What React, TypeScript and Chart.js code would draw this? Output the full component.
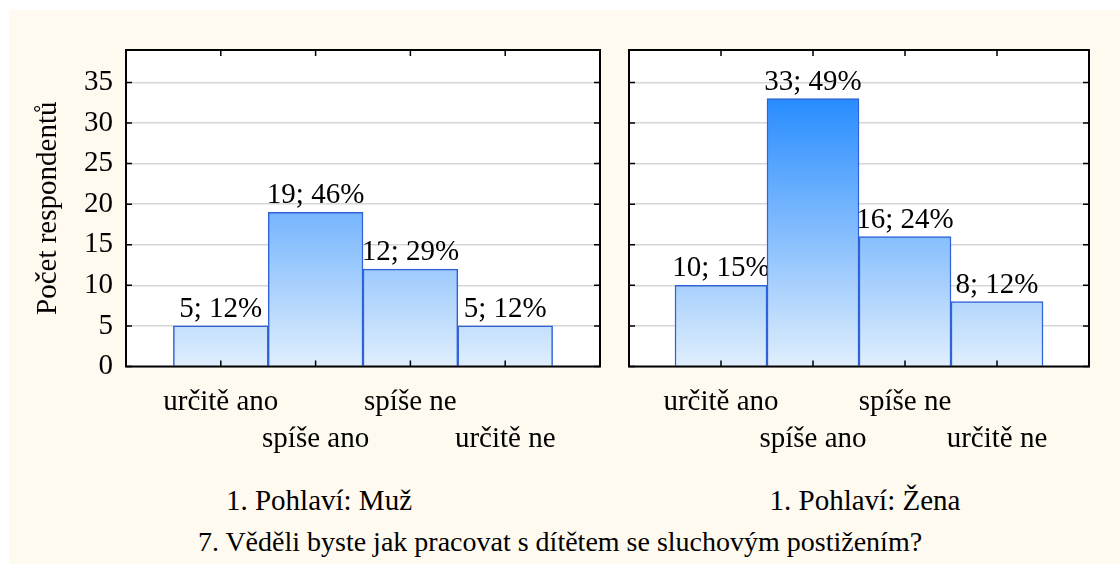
import React, { useEffect, useRef } from "react";
import { Chart, registerables } from "chart.js";

Chart.register(...registerables);

// ---- data ----
const categories = ["určitě ano", "spíše ano", "spíše ne", "určitě ne"];
const maleCounts = [5, 19, 12, 5];
const malePercents = [12, 46, 29, 12];
const femaleCounts = [10, 33, 16, 8];
const femalePercents = [15, 49, 24, 12];
const yTickStep = 5;
const yMax = 39;
const yTitle = "Počet respondentů";
const panelTitles = ["1. Pohlaví: Muž", "1. Pohlaví: Žena"];
const mainTitle = "7. Věděli byste jak pracovat s dítětem se sluchovým postižením?";

// ---- style ----
const FONT = "Liberation Serif";
const FS = 29;
const GRAD_TOP_VALUE = 33;
const CREAM = "#FFFAF0";

function makeFramePlugin(counts: number[], percents: number[]) {
  return {
    id: "frame",
    beforeDraw(chart: any) {
      const { ctx, chartArea: a } = chart;
      ctx.save();
      ctx.fillStyle = "#ffffff";
      ctx.fillRect(a.left, a.top, a.right - a.left, a.bottom - a.top);
      ctx.restore();
    },
    beforeDatasetsDraw(chart: any) {
      const { ctx } = chart;
      const meta = chart.getDatasetMeta(0);
      ctx.save();
      ctx.font = `${FS}px ${FONT}`;
      ctx.fillStyle = "#000";
      ctx.textAlign = "center";
      ctx.textBaseline = "alphabetic";
      meta.data.forEach((bar: any, i: number) => {
        ctx.fillText(`${counts[i]}; ${percents[i]}%`, bar.x, bar.y - 9);
      });
      ctx.restore();
    },
    afterDatasetsDraw(chart: any) {
      const { ctx, chartArea: a, scales } = chart;
      const ys = scales.y;
      const xs = scales.x;
      ctx.save();
      ctx.strokeStyle = "#000";
      ctx.lineWidth = 1.5;
      const tl = 6;
      ys.ticks.forEach((t: any) => {
        const p = ys.getPixelForValue(t.value);
        ctx.beginPath();
        ctx.moveTo(a.left, p);
        ctx.lineTo(a.left + tl, p);
        ctx.moveTo(a.right, p);
        ctx.lineTo(a.right - tl, p);
        ctx.stroke();
      });
      categories.forEach((_c, i) => {
        const p = xs.getPixelForValue(i + 1);
        ctx.beginPath();
        ctx.moveTo(p, a.top);
        ctx.lineTo(p, a.top + tl);
        ctx.moveTo(p, a.bottom);
        ctx.lineTo(p, a.bottom - tl);
        ctx.stroke();
      });
      ctx.lineWidth = 2;
      ctx.strokeRect(a.left, a.top, a.right - a.left, a.bottom - a.top);
      ctx.restore();
    },
  };
}

function makeConfig(counts: number[], percents: number[], left: boolean): any {
  return {
    type: "bar",
    data: {
      datasets: [
        {
          data: categories.map((_c, i) => ({ x: i + 1, y: counts[i] })),
          backgroundColor: (c: any) => {
            const chart = c.chart;
            if (!chart.chartArea) return "#cfe4fb";
            const ys = chart.scales.y;
            const g = chart.ctx.createLinearGradient(
              0,
              ys.getPixelForValue(0),
              0,
              ys.getPixelForValue(GRAD_TOP_VALUE)
            );
            g.addColorStop(0, "#E0EEFC");
            g.addColorStop(1, "#288CFF");
            return g;
          },
          borderColor: "#2F62D8",
          borderWidth: 1.5,
          borderSkipped: "bottom",
          categoryPercentage: 1,
          barPercentage: 1,
        },
      ],
    },
    options: {
      responsive: false,
      animation: false,
      devicePixelRatio: 1,
      layout: {
        padding: left
          ? { left: 27, right: 20, top: 50, bottom: 0 }
          : { left: 19, right: 21, top: 50, bottom: 0 },
      },
      plugins: {
        legend: { display: false },
        tooltip: { enabled: false },
        title: { display: false },
      },
      scales: {
        x: {
          type: "linear",
          offset: false,
          min: 0,
          max: categories.length + 1,
          grid: { display: false, drawTicks: false, offset: false },
          border: { display: false },
          afterFit: (s: any) => {
            s.height = 103.5;
          },
          ticks: {
            stepSize: 1,
            autoSkip: false,
            maxRotation: 0,
            minRotation: 0,
            padding: 17,
            color: "#000",
            font: { family: FONT, size: FS, lineHeight: 1.28 },
            callback: (v: any) => {
              const i = Math.round(Number(v)) - 1;
              if (i < 0 || i >= categories.length) return "";
              return i % 2 === 0 ? [categories[i], ""] : ["", categories[i]];
            },
          },
        },
        y: {
          type: "linear",
          min: 0,
          max: yMax,
          grid: { color: "#D6D6D6", lineWidth: 1.5, drawTicks: false },
          border: { display: false },
          afterFit: (s: any) => {
            s.width = left ? 99 : 0;
          },
          title: {
            display: left,
            text: yTitle,
            color: "#000",
            font: { family: FONT, size: FS },
            padding: { top: 4, bottom: 4 },
          },
          ticks: {
            display: left,
            stepSize: yTickStep,
            includeBounds: false,
            padding: 13,
            color: "#000",
            font: { family: FONT, size: FS },
          },
        },
      },
    },
    plugins: [makeFramePlugin(counts, percents)],
  };
}

export default function App() {
  const c1 = useRef<HTMLCanvasElement>(null);
  const c2 = useRef<HTMLCanvasElement>(null);

  useEffect(() => {
    const ch1 = new Chart(c1.current as HTMLCanvasElement, makeConfig(maleCounts, malePercents, true));
    const ch2 = new Chart(c2.current as HTMLCanvasElement, makeConfig(femaleCounts, femalePercents, false));
    return () => {
      ch1.destroy();
      ch2.destroy();
    };
  }, []);

  const textStyle = (center: number, top: number, size: number): React.CSSProperties => ({
    position: "absolute",
    left: center - 400,
    width: 800,
    top,
    textAlign: "center",
    fontFamily: FONT,
    fontSize: size,
    lineHeight: `${size}px`,
    color: "#000",
    whiteSpace: "nowrap",
  });

  return (
    <div
      style={{
        position: "absolute",
        left: 0,
        top: 0,
        width: 1120,
        height: 564,
        background: "#ffffff",
        overflow: "hidden",
      }}
    >
      <div style={{ position: "absolute", left: 9, top: 10, right: 0, bottom: 0, background: CREAM }} />
      <canvas
        ref={c1}
        width={620}
        height={470}
        style={{ position: "absolute", left: 0, top: 0, width: 620, height: 470 }}
      />
      <canvas
        ref={c2}
        width={500}
        height={470}
        style={{ position: "absolute", left: 610, top: 0, width: 500, height: 470 }}
      />
      <div style={textStyle(319, 486, FS)}>{panelTitles[0]}</div>
      <div style={textStyle(865, 486, FS)}>{panelTitles[1]}</div>
      <div style={textStyle(560, 528, 28)}>{mainTitle}</div>
    </div>
  );
}
